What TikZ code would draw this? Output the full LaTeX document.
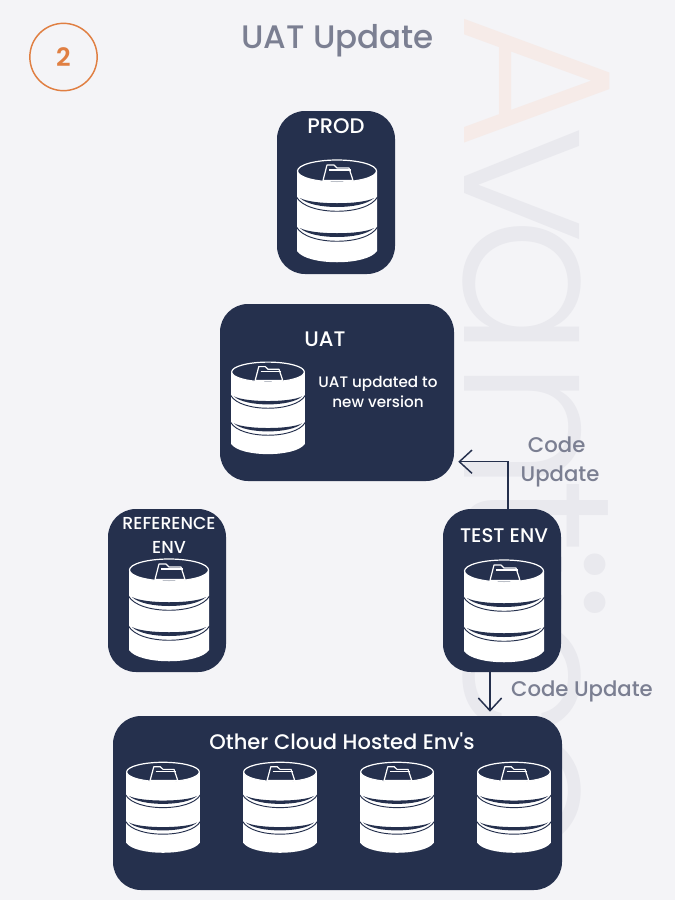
\documentclass[tikz,border=0pt]{standalone}
\usepackage{fontspec}
\setmainfont{Poppins}[UprightFont=* Medium,BoldFont=* SemiBold]
\newfontfamily\wmfont{Poppins Light}
\usetikzlibrary{arrows.meta}

\definecolor{pagebg}{HTML}{F4F4F7}
\definecolor{navy}{HTML}{25304D}
\definecolor{slate}{HTML}{7B7F92}
\definecolor{badge}{HTML}{E07F42}
\definecolor{wmrose}{HTML}{F6EBE8}
\definecolor{wmgrey}{HTML}{E9E9EE}

\tikzset{
  panel/.style={fill=navy,rounded corners=21pt,inner sep=0pt},
  paneltext/.style={text=white,font=\fontsize{15.8}{18}\selectfont,align=center,inner sep=0pt},
  smalltext/.style={text=white,font=\fontsize{11.4}{15}\selectfont,align=center,inner sep=0pt},
  updatetext/.style={text=slate,font=\fontsize{15.9}{22}\selectfont,align=center,inner sep=0pt},
  pics/dbstack/.style={code={
      \fill[white] (-40,0) -- (-40,80) .. controls (-30,95) and (30,95) .. (40,80) -- (40,0) -- cycle;
      \foreach \d in {27,57} {
        \fill[navy] (-37,\d) .. controls (-25,\d+7) and (25,\d+7) .. (37,\d)
          .. controls (25,\d+12) and (-25,\d+12) .. cycle;
        \draw[navy,line width=.7pt] (-40.5,\d-1) .. controls (-30,\d+18) and (30,\d+18) .. (40.5,\d-1);
      }
      \draw[white,fill=navy,line width=.9pt] (0,0) ellipse (39.5 and 11);
      \draw[white,line width=.9pt,line join=round] (-14,9.5) -- (-10,-6) -- (-3,-6) -- (0,-3) -- (12,-3) -- (16,9.5) -- cycle;
      \draw[white,line width=.9pt] (-8,-1) -- (14,-1);
  }}
}

\begin{document}
\begin{tikzpicture}[x=.75pt,y=-.75pt,>={Straight Barb[length=9.5pt,width=17.5pt]}]
  \useasboundingbox (0,0) rectangle (675,900);
  \fill[pagebg] (0,0) rectangle (675,900);

  % watermark
  \node[rotate=-90,anchor=base west,inner sep=0pt,font=\wmfont\fontsize{158}{158}\selectfont] (mark) at (464,12)
    {\textcolor{wmrose}{A}\kern-16.5pt\textcolor{wmgrey}{v\kern-19.5pt an\kern-10pt t\kern-10pt\raisebox{-12.75pt}{i}\kern-8pt\raisebox{-12.75pt}{i}\kern-12pt c\kern-12pt o}};

  % heading
  \node[draw=badge,line width=1.1pt,circle,minimum size=50.5pt,inner sep=0pt,text=badge,font=\bfseries\fontsize{19}{22}\selectfont] (step2) at (63.5,57) {2};
  \node[text=slate,font=\fontsize{24.4}{28}\selectfont,inner sep=0pt] (title) at (337.5,40.5) {UAT Update};

  % panels
  \node[panel,minimum width=88.5pt,minimum height=122.25pt] (prod) at (336,192.5) {};
  \node[panel,minimum width=175.5pt,minimum height=132.75pt] (uat) at (337,392.5) {};
  \node[panel,minimum width=88.5pt,minimum height=122.25pt] (refenv) at (167,590.5) {};
  \node[panel,minimum width=88.5pt,minimum height=122.25pt] (testenv) at (502,590.5) {};
  \node[panel,minimum width=336.75pt,minimum height=130.5pt] (cloud) at (337.5,803) {};

  % labels
  \node[paneltext] (prodtext) at (336,126) {PROD};
  \node[paneltext] (uattext) at (325,339) {UAT};
  \node[smalltext] (uatnote) at (378,392) {UAT updated to\\new version};
  \node[paneltext,font=\fontsize{13}{18}\selectfont] (reftext) at (169,535) {REFERENCE\\ENV};
  \node[paneltext,font=\fontsize{14.8}{18}\selectfont] (testtext) at (504,536) {TEST ENV};
  \node[paneltext] (cloudtext) at (342,741) {Other Cloud Hosted Env\textquotesingle s};

  % databases
  \pic at (337,171) {dbstack};
  \pic[xscale=.92,yscale=.9] at (268,372) {dbstack};
  \pic at (169,570) {dbstack};
  \pic at (504,571) {dbstack};
  \foreach \x in {163,280,397,514}
    \pic[xscale=.92,yscale=.885] at (\x,772) {dbstack};

  % code updates
  \draw[->,navy,line width=1.1pt,shorten >=3pt]
    ([xshift=4.5pt]testenv.north) |- ([yshift=-51.9pt]uat.east);
  \draw[->,navy,line width=1.1pt,shorten >=3pt]
    ([xshift=-9pt]testenv.south) -- ([xshift=-9pt]testenv.south |- cloud.north);
  \node[updatetext] (codeup) at (560,462) {Code\kern5pt\\Update};
  \node[updatetext] (codedown) at (582,691) {Code Update};
\end{tikzpicture}
\end{document}
